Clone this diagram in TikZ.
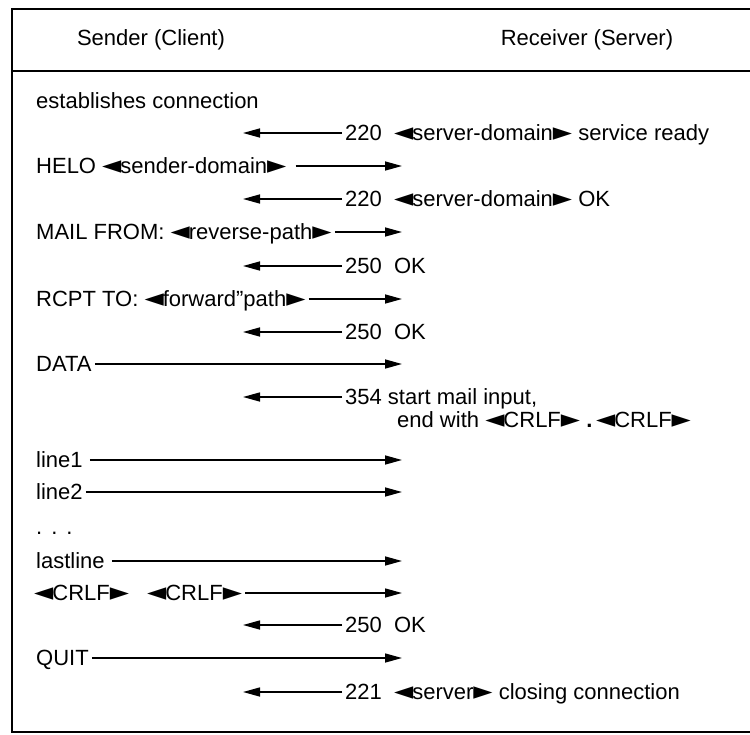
\documentclass[tikz,border=0pt]{standalone}
\usepackage{fontspec}
\setmainfont{Liberation Sans}
\newfontfamily\ptrfont{DejaVu Sans}
\usetikzlibrary{arrows.meta,positioning}
\newcommand{\lpt}{{\ptrfont\fontsize{25}{25}\selectfont ◄}\kern-1pt}
\newcommand{\rpt}{{\ptrfont\fontsize{25}{25}\selectfont ►}}

\begin{document}
\begin{tikzpicture}[x=1pt,y=-1pt,font=\fontsize{22}{24}\selectfont,
    msg/.style={anchor=west,inner xsep=3pt,inner ysep=0pt,
                text height=18pt,text depth=3pt},
    hdr/.style={inner sep=0pt},
    flow/.style={line width=1.5pt,-{Triangle[length=17pt,width=9pt]}}]
  \useasboundingbox (0,0) rectangle (750,734);
  % frame and header rule
  \draw[line width=1.6pt] (756,9) -- (12,9) -- (12,732) -- (756,732);
  \draw[line width=1.6pt] (12,71) -- (756,71);
  \node[hdr] (snd) at (151,40) {Sender (Client)};
  \node[hdr] (rcv) at (587,40) {Receiver (Server)};

  % client side
  \node[msg] (est)  at (33,101) {establishes connection};
  \node[msg] (helo) at (33,166) {HELO \lpt sender-domain\rpt};
  \node[msg] (mail) at (33,232) {MAIL FROM: \lpt reverse-path\rpt};
  \node[msg] (rcpt) at (33,299) {RCPT TO: \lpt forward"path\rpt};
  \node[msg] (data) at (33,364) {DATA};
  \node[msg] (ln1)  at (33,460) {line1};
  \node[msg] (ln2)  at (33,492) {line2};
  \node[msg] (dots) at (33,527) {.\hspace{9pt}.\hspace{9pt}.};
  \node[msg] (last) at (33,561) {lastline};
  \node[msg] (crlf) at (31,593) {\lpt CRLF\rpt\hspace{18pt}\lpt CRLF\rpt};
  \node[msg] (quit) at (33,658) {QUIT};

  % server side
  \node[msg] (r220a) at (342,133) {220 \ \lpt server-domain\rpt\ service ready};
  \node[msg] (r220b) at (342,199) {220 \ \lpt server-domain\rpt\ OK};
  \node[msg] (r250a) at (342,266) {250 \ OK};
  \node[msg] (r250b) at (342,332) {250 \ OK};
  \node[msg] (r354)  at (342,397) {354 start mail input,};
  \node[msg] (endw)  at (394,420)
    {end with \lpt CRLF\rpt\ \textbf{.}\,\lpt CRLF\rpt};
  \node[msg] (r250c) at (342,625) {250 \ OK};
  \node[msg] (r221)  at (342,692) {221 \ \lpt server\rpt\ closing connection};

  % arrow ends
  \foreach \y/\n in {133/a,199/b,266/c,332/d,397/e,625/f,692/g}
    \coordinate (sl\n) at (243,\y);
  \foreach \y/\n in {166/a,232/b,299/c,364/d,460/e,492/f,561/g,593/h,658/i}
    \coordinate (cr\n) at (402,\y);

  \draw[flow] ([xshift=6pt]helo.east) -- (cra);
  \draw[flow] (mail.east) -- (crb);
  \draw[flow] (rcpt.east) -- (crc);
  \draw[flow] (data.east) -- (crd);
  \draw[flow] ([xshift=4pt]ln1.east) -- (cre);
  \draw[flow] (ln2.east) -- (crf);
  \draw[flow] ([xshift=4pt]last.east) -- (crg);
  \draw[flow] (crlf.east) -- (crh);
  \draw[flow] (quit.east) -- (cri);

  \draw[flow] (r220a.west) -- (sla);
  \draw[flow] (r220b.west) -- (slb);
  \draw[flow] (r250a.west) -- (slc);
  \draw[flow] (r250b.west) -- (sld);
  \draw[flow] (r354.west) -- (sle);
  \draw[flow] (r250c.west) -- (slf);
  \draw[flow] (r221.west) -- (slg);
\end{tikzpicture}
\end{document}
